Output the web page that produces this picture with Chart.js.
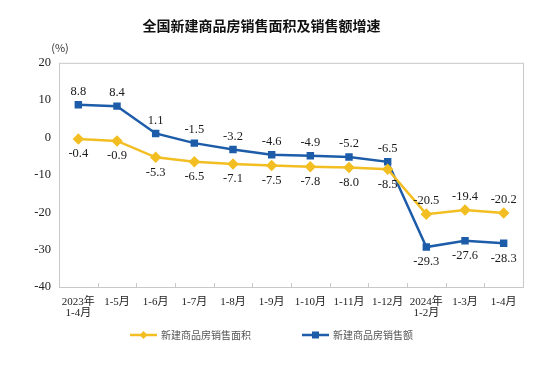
<!DOCTYPE html>
<html>
<head>
<meta charset="utf-8">
<script src="https://cdn.jsdelivr.net/npm/chart.js@4.4.0/dist/chart.umd.min.js"></script>
<style>
  html, body { margin: 0; padding: 0; background: #fff; }
  canvas { display: block; }
</style>
</head>
<body>
<canvas id="myChart" width="555" height="367"></canvas>
<script>
const categories = [['2023年', '1-4月'], '1-5月', '1-6月', '1-7月', '1-8月', '1-9月', '1-10月', '1-11月', '1-12月', ['2024年', '1-2月'], '1-3月', '1-4月'];
const areaGrowth = [-0.4, -0.9, -5.3, -6.5, -7.1, -7.5, -7.8, -8.0, -8.5, -20.5, -19.4, -20.2];
const salesGrowth = [8.8, 8.4, 1.1, -1.5, -3.2, -4.6, -4.9, -5.2, -6.5, -29.3, -27.6, -28.3];
const yTicks = [20, 10, 0, -10, -20, -30, -40];

const yellow = 'rgb(242, 190, 34)';
const blue = 'rgb(28, 92, 168)';
const serif = "'Liberation Serif', 'Noto Sans CJK SC', serif";
const cjk = "'Noto Sans CJK SC', sans-serif";

// where the two legend entries start (left end of the line swatch)
const legendX = [130, 302];
const legendY = 335;

// box, inner x ticks, "(%)", value labels and the legend
const extras = {
  id: 'extras',
  afterDraw(chart) {
    const { ctx, chartArea: a, scales } = chart;
    ctx.save();
    ctx.strokeStyle = '#c8c8c8';
    ctx.lineWidth = 1;
    ctx.strokeRect(a.left + 0.5, a.top + 0.5, a.right - a.left, a.bottom - a.top);
    const xs = scales.x;
    ctx.beginPath();
    for (let i = 0; i < categories.length - 1; i++) {
      const px = Math.round((xs.getPixelForValue(i) + xs.getPixelForValue(i + 1)) / 2) + 0.5;
      ctx.moveTo(px, a.bottom); ctx.lineTo(px, a.bottom - 4);
    }
    ctx.stroke();

    ctx.fillStyle = '#333';
    ctx.font = '11px ' + cjk;
    ctx.textAlign = 'center';
    ctx.textBaseline = 'middle';
    ctx.fillText('(%)', 60, 48);

    ctx.font = '12.5px ' + serif;
    ctx.fillStyle = '#1a1a1a';
    chart.data.datasets.forEach((ds, di) => {
      const meta = chart.getDatasetMeta(di);
      meta.data.forEach((pt, i) => {
        const v = ds.data[i];
        const other = chart.data.datasets[1 - di].data[i];
        const above = v > other;
        const y = above ? pt.y - 13 : pt.y + 15;
        ctx.fillText(v.toFixed(1), pt.x, y);
      });
    });

    // legend: line + marker + name
    chart.data.datasets.forEach((ds, di) => {
      const x0 = legendX[di];
      ctx.strokeStyle = ds.borderColor;
      ctx.fillStyle = ds.borderColor;
      ctx.lineWidth = 2.5;
      ctx.beginPath(); ctx.moveTo(x0, legendY); ctx.lineTo(x0 + 27, legendY); ctx.stroke();
      ctx.beginPath();
      const cx = x0 + 13.5;
      if (ds.pointStyle === 'rect') {
        ctx.rect(cx - 3.5, legendY - 3.5, 7, 7);
      } else {
        ctx.moveTo(cx, legendY - 4); ctx.lineTo(cx + 4, legendY); ctx.lineTo(cx, legendY + 4); ctx.lineTo(cx - 4, legendY); ctx.closePath();
      }
      ctx.fill();
      ctx.fillStyle = '#555';
      ctx.font = '10px ' + cjk;
      ctx.textAlign = 'left';
      ctx.fillText(ds.label, x0 + 31, legendY);
    });
    ctx.restore();
  }
};

new Chart(document.getElementById('myChart'), {
  type: 'line',
  data: {
    labels: categories,
    datasets: [{
      label: '新建商品房销售面积',
      data: areaGrowth,
      borderColor: yellow,
      backgroundColor: yellow,
      borderWidth: 2.5,
      pointStyle: 'rectRot',
      pointRadius: 4,
      tension: 0
    }, {
      label: '新建商品房销售额',
      data: salesGrowth,
      borderColor: blue,
      backgroundColor: blue,
      borderWidth: 2.5,
      pointStyle: 'rect',
      pointRadius: 3.5,
      tension: 0
    }]
  },
  options: {
    responsive: false,
    animation: false,
    devicePixelRatio: 1,
    layout: { padding: { left: 0, right: 32, top: 0, bottom: 43 } },
    plugins: {
      title: {
        display: true,
        text: '全国新建商品房销售面积及销售额增速',
        color: '#111',
        font: { family: cjk, size: 14, weight: '600' },
        padding: { top: 17, bottom: 29 }
      },
      legend: { display: false },
      tooltip: { enabled: false }
    },
    scales: {
      x: {
        offset: true,
        afterFit(scale) { scale.height = 37; },
        grid: { display: false, drawTicks: false },
        border: { display: false },
        ticks: {
          color: '#222',
          font: { family: serif, size: 11, lineHeight: 1.05 },
          maxRotation: 0,
          autoSkip: false,
          padding: 9
        }
      },
      y: {
        min: -40,
        max: 20,
        afterFit(scale) { scale.width = 59; },
        afterBuildTicks(scale) { scale.ticks = yTicks.map(v => ({ value: v })); },
        grid: { display: false, drawTicks: false },
        border: { display: false },
        ticks: {
          color: '#222',
          font: { family: serif, size: 12.5 },
          padding: 8
        }
      }
    }
  },
  plugins: [extras]
});
</script>
</body>
</html>
